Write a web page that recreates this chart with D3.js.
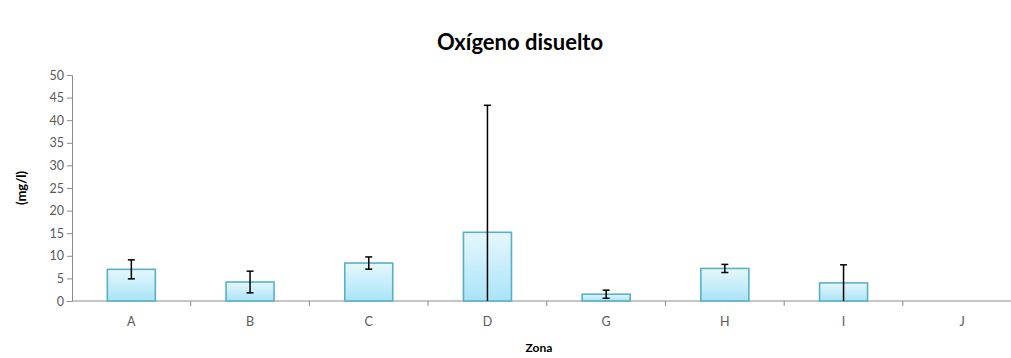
<!DOCTYPE html>
<html><head><meta charset="utf-8">
<script src="https://cdn.jsdelivr.net/npm/d3@7"></script>
<style>body{margin:0;background:#fff}svg{display:block}</style>
</head><body><svg id="c" width="1011" height="358"></svg>
<script>
const categories = ["A","B","C","D","G","H","I","J"];
const values = [7.0, 4.2, 8.4, 15.2, 1.5, 7.2, 4.0, null];
const errors = [2.1, 2.4, 1.35, 28.1, 0.9, 0.9, 4.0, null];
const yTicks = [0,5,10,15,20,25,30,35,40,45,50];

const svg = d3.select("#c");
const W = 1011, H = 358;
const x = d3.scaleBand().domain(categories).range([72, 72 + 118.7*8]).paddingInner(0).paddingOuter(0);
const y = d3.scaleLinear().domain([0,50]).range([301, 75]);

const defs = svg.append("defs");
const g = defs.append("linearGradient").attr("id","bg").attr("x1",0).attr("y1",0).attr("x2",0).attr("y2",1);
g.append("stop").attr("offset","0%").attr("stop-color","#e6f7fd");
g.append("stop").attr("offset","100%").attr("stop-color","#a9e4f8");

const font = "Lato, 'Open Sans', sans-serif";

// title
svg.append("text").attr("x",520).attr("y",50).attr("text-anchor","middle")
  .attr("font-family",font).attr("font-weight","bold").attr("font-size",22).attr("fill","#000")
  .text("Oxígeno disuelto");

// y axis
const ya = svg.append("g").attr("transform","translate(72,0)")
  .call(d3.axisLeft(y).tickValues(yTicks).tickSize(5).tickPadding(3));
ya.select(".domain").attr("stroke","#8c8c8c");
ya.selectAll(".tick line").attr("stroke","#8c8c8c");
ya.selectAll(".tick text").attr("font-family",font).attr("font-size",12.5).attr("fill","#595959");

// x axis
const xa = svg.append("g").attr("transform","translate(0,301)")
  .call(d3.axisBottom(x).tickSize(0).tickPadding(16));
xa.select(".domain").remove();
xa.append("line").attr("x1",72).attr("x2",W).attr("y1",0).attr("y2",0).attr("stroke","#8c8c8c");
xa.selectAll(".sep").data(categories.slice(1)).enter().append("line")
  .attr("x1",d=>x(d)).attr("x2",d=>x(d)).attr("y1",0).attr("y2",5).attr("stroke","#8c8c8c");
xa.selectAll(".tick text").attr("font-family",font).attr("font-size",12.5).attr("fill","#595959");

// axis titles
svg.append("text").attr("transform","translate(26,188) rotate(-90)").attr("text-anchor","middle")
  .attr("font-family",font).attr("font-weight","bold").attr("font-size",13).attr("fill","#000").text("(mg/l)");
svg.append("text").attr("x",539).attr("y",352).attr("text-anchor","middle")
  .attr("font-family",font).attr("font-weight","bold").attr("font-size",12).attr("fill","#000").text("Zona");

const data = categories.map((c,i)=>({c, v:values[i], e:errors[i]})).filter(d=>d.v!=null);
const bw = 48;
svg.selectAll(".bar").data(data).enter().append("rect")
  .attr("x",d=>x(d.c)+x.bandwidth()/2-bw/2).attr("width",bw)
  .attr("y",d=>y(d.v)).attr("height",d=>y(0)-y(d.v))
  .attr("fill","url(#bg)").attr("stroke","#5aafc6").attr("stroke-width",1.6);

const eg = svg.selectAll(".err").data(data).enter().append("g")
  .attr("stroke","#000").attr("stroke-width",1.5);
eg.append("line").attr("x1",d=>x(d.c)+x.bandwidth()/2).attr("x2",d=>x(d.c)+x.bandwidth()/2)
  .attr("y1",d=>y(d.v+d.e)).attr("y2",d=>y(Math.max(0,d.v-d.e)));
eg.append("line").attr("x1",d=>x(d.c)+x.bandwidth()/2-3.5).attr("x2",d=>x(d.c)+x.bandwidth()/2+3.5)
  .attr("y1",d=>y(d.v+d.e)).attr("y2",d=>y(d.v+d.e));
eg.filter(d=>d.v-d.e>0).append("line").attr("x1",d=>x(d.c)+x.bandwidth()/2-3.5).attr("x2",d=>x(d.c)+x.bandwidth()/2+3.5)
  .attr("y1",d=>y(d.v-d.e)).attr("y2",d=>y(d.v-d.e));
</script></body></html>
